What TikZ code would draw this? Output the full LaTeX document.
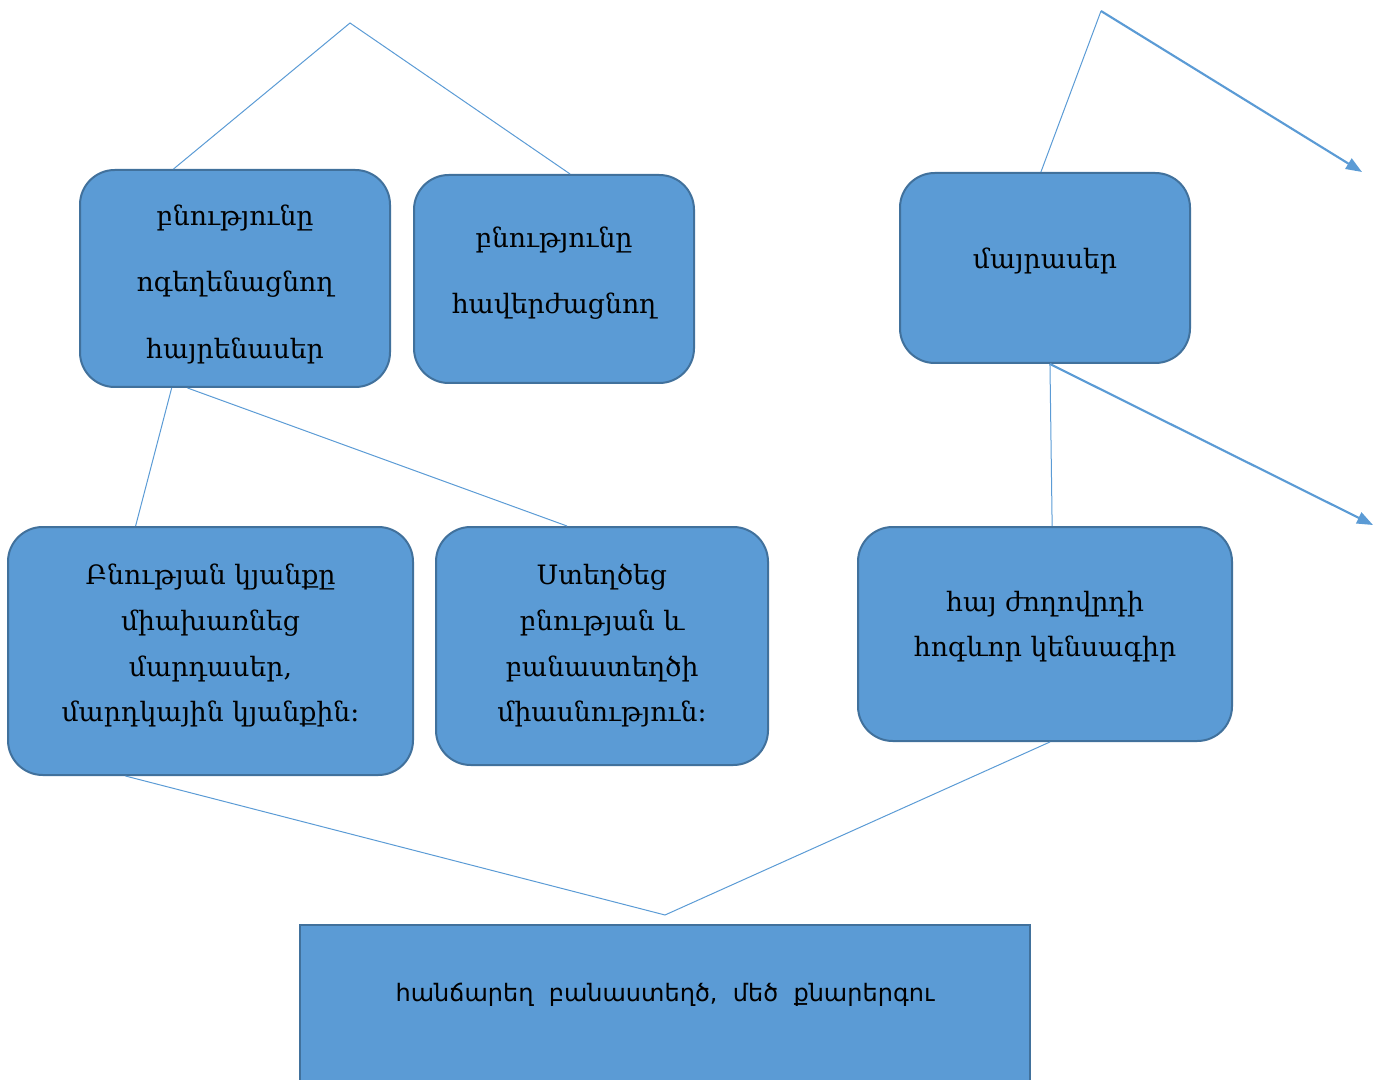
\documentclass[tikz,border=0pt]{standalone}
\usepackage{fontspec}
\setmainfont{DejaVu Serif}
\newfontfamily\flatfont{DejaVu Sans}
\usepackage{tikz}
\usetikzlibrary{calc,arrows.meta}
\definecolor{boxblue}{HTML}{5B9BD5}
\definecolor{boxedge}{HTML}{41719C}
\tikzstyle{box} = [draw=boxedge, line width=1.5pt, fill=boxblue, rounded corners=26pt, align=center, inner sep=0pt, font={\fontsize{20}{24}\selectfont}]
\tikzstyle{flatbox} = [box, rounded corners=0pt, font={\flatfont\fontsize{18}{21.6}\selectfont}]
\tikzstyle{link} = [draw=boxblue, line width=0.75pt]
\tikzstyle{pointer} = [draw=boxblue, line width=1.6pt, -{Triangle[length=12pt,width=9pt]}]

\begin{document}
\begin{tikzpicture}[x=0.75pt,y=-0.75pt]
    \useasboundingbox (0,0) rectangle (1382,1080);
    \node[box,minimum width=232.5pt,minimum height=162.75pt](A) at (235,278.5){\mbox{}\\[0pt]բնությունը\\[26pt]ոգեղենացնող\\[26pt]հայրենասեր};
    \node[box,minimum width=210pt,minimum height=156pt](B) at (554,279){բնությունը\\[25.5pt]հավերժացնող\\[-11.5pt]\mbox{}};
    \node[box,minimum width=217.5pt,minimum height=142.5pt](C) at (1045,268){մայրասեր\\[-10pt]\mbox{}};
    \node[box,minimum width=303.75pt,minimum height=186pt](D) at (210.5,651){Բնության կյանքը\\[10.3pt]միախառնեց\\[10.3pt]մարդասեր,\\[10.3pt]մարդկային կյանքին։\\[-12pt]\mbox{}};
    \node[box,minimum width=249pt,minimum height=178.5pt](E) at (602,646){Ստեղծեց\\[10.3pt]բնության և\\[10.3pt]բանաստեղծի\\[10.3pt]միասնություն։\\[-19.5pt]\mbox{}};
    \node[box,minimum width=280.5pt,minimum height=160.5pt](F) at (1045,634){հայ ժողովրդի\\[10.3pt]հոգևոր կենսագիր\\[-9pt]\mbox{}};
    \node[flatbox,minimum width=547.5pt,minimum height=120pt](G) at (665,1005){հանճարեղ\ \ բանաստեղծ,\ \ մեծ\ \ քնարերգու\\[-3pt]\mbox{}};
    \coordinate (topleft) at (350,23);
    \coordinate (topright) at (1101,11);
    \coordinate (endup) at (1362,172);
    \coordinate (enddown) at (1373,525);
    \coordinate (bottom) at (665,915);
    \draw[link]($(A.north west)!0.303!(A.north east)$)--(topleft)--($(B.north west)!0.557!(B.north east)$);
    \draw[link]($(A.south west)!0.297!(A.south east)$)--($(D.north west)!0.316!(D.north east)$);
    \draw[link]($(A.south west)!0.348!(A.south east)$)--($(E.north west)!0.395!(E.north east)$);
    \draw[link]($(C.north west)!0.486!(C.north east)$)--(topright);
    \draw[pointer](topright)--(endup);
    \draw[link]($(C.south west)!0.517!(C.south east)$)--($(F.north west)!0.519!(F.north east)$);
    \draw[pointer]($(C.south west)!0.517!(C.south east)$)--(enddown);
    \draw[link]($(D.south west)!0.291!(D.south east)$)--(bottom)--($(F.south west)!0.513!(F.south east)$);
  \end{tikzpicture}
\end{document}
